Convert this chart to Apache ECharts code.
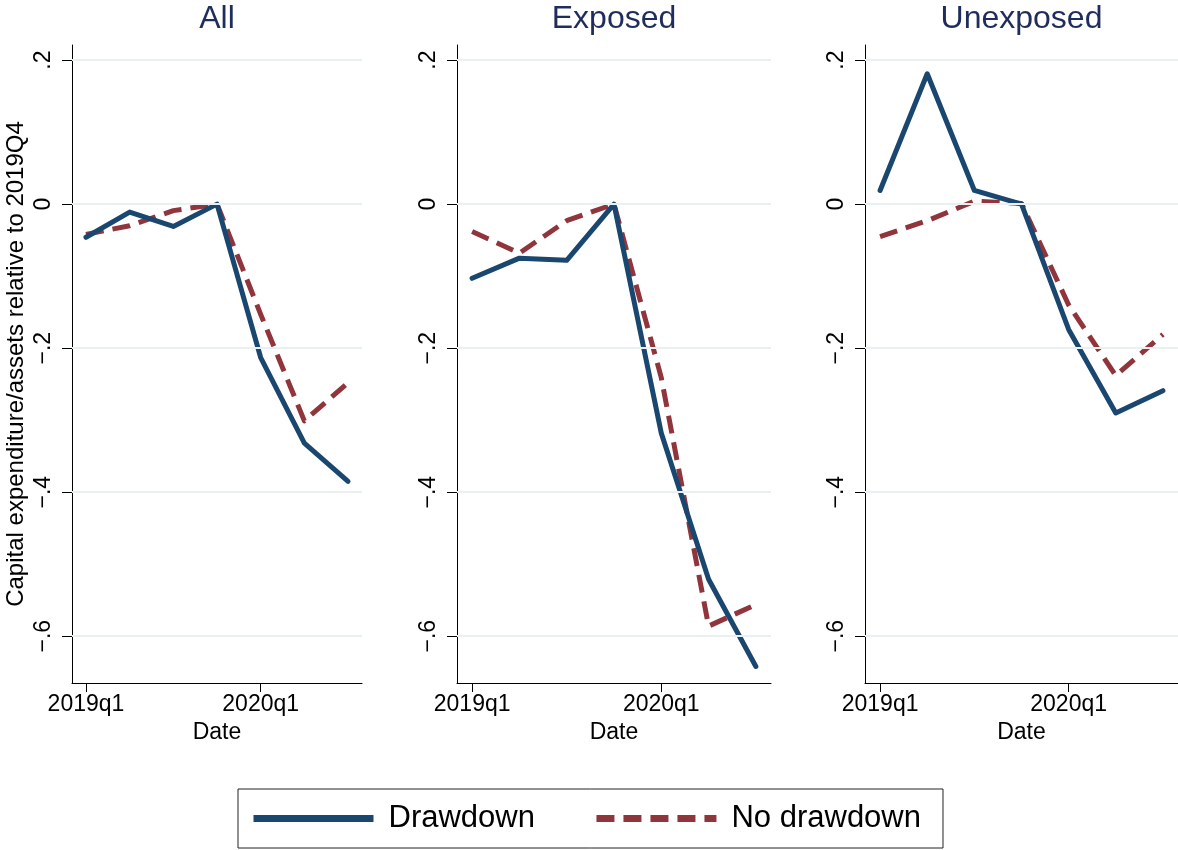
<!DOCTYPE html>
<html>
<head>
<meta charset="utf-8">
<script src="https://cdn.jsdelivr.net/npm/echarts@6/dist/echarts.min.js"></script>
<style>
  html, body { margin: 0; padding: 0; background: #ffffff; }
  #chart { width: 1178px; height: 850px; }
</style>
</head>
<body>
<div id="chart"></div>
<script>
// Quarters on the horizontal axis
const quarters = ['2019q1', '2019q2', '2019q3', '2019q4', '2020q1', '2020q2', '2020q3'];
const xTickQuarters = ['2019q1', '2020q1'];
const yTicks = [0.2, 0, -0.2, -0.4, -0.6];

// Panel titles
const panelTitles = ['All', 'Exposed', 'Unexposed'];

// Capital expenditure/assets relative to 2019Q4
const drawdownAll = [-0.046, -0.011, -0.031, 0, -0.213, -0.332, -0.385];
const noDrawdownAll = [-0.042, -0.030, -0.009, 0, -0.153, -0.301, -0.248];

const drawdownExposed = [-0.103, -0.075, -0.078, 0, -0.318, -0.521, -0.642];
const noDrawdownExposed = [-0.038, -0.068, -0.023, 0, -0.241, -0.586, -0.556];

const drawdownUnexposed = [0.019, 0.181, 0.019, 0, -0.174, -0.290, -0.259];
const noDrawdownUnexposed = [-0.045, -0.023, 0.004, 0.001, -0.140, -0.238, -0.181];

const seriesNames = ['Drawdown', 'No drawdown'];
const yTitle = 'Capital expenditure/assets relative to 2019Q4';
const xTitle = 'Date';

// ---- layout & style ----
const FONT = '"Liberation Sans", Arial, Helvetica, sans-serif';
const BLUE = '#1a476f';
const RED = '#90353b';
const TITLE_COLOR = '#1f2d5c';
const GRID_COLOR = '#e9f0f2';

const panels = [
  { left: 72, width: 290, dd: drawdownAll, nd: noDrawdownAll },
  { left: 457, width: 314, dd: drawdownExposed, nd: noDrawdownExposed },
  { left: 865, width: 313, dd: drawdownUnexposed, nd: noDrawdownUnexposed }
];
const PLOT_TOP = 45;
const PLOT_HEIGHT = 638;
const X_MIN = -0.32, X_MAX = 6.32;
const Y_MIN = -0.665, Y_MAX = 0.221;

const xTickValues = xTickQuarters.map(q => quarters.indexOf(q));
const toPairs = arr => quarters.map((q, i) => [i, arr[i]]);
const fmtY = v => {
  if (Math.abs(v) < 1e-9) return '0';
  const s = Math.abs(v).toFixed(1).replace(/^0/, '');
  return (v < 0 ? '\u2212' : '') + s;
};

const grids = [], xAxes = [], yAxes = [], series = [], graphics = [];

panels.forEach((p, k) => {
  grids.push({ left: p.left, width: p.width, top: PLOT_TOP, height: PLOT_HEIGHT, containLabel: false });

  xAxes.push({
    type: 'value', gridIndex: k, min: X_MIN, max: X_MAX,
    name: xTitle, nameLocation: 'middle', nameGap: 36,
    nameTextStyle: { fontFamily: FONT, fontSize: 23, color: '#000' },
    axisLine: { show: true, onZero: false, lineStyle: { color: '#000', width: 1 } },
    axisTick: { show: true, customValues: xTickValues, length: 9, lineStyle: { color: '#000', width: 1 } },
    axisLabel: {
      show: true, customValues: xTickValues, margin: 10,
      fontFamily: FONT, fontSize: 23, color: '#000',
      formatter: v => quarters[Math.round(v)]
    },
    splitLine: { show: false }
  });

  yAxes.push({
    type: 'value', gridIndex: k, min: Y_MIN, max: Y_MAX,
    name: k === 0 ? yTitle : '', nameLocation: 'middle', nameGap: 44,
    nameTextStyle: { fontFamily: FONT, fontSize: 24, color: '#000' },
    axisLine: { show: true, onZero: false, lineStyle: { color: '#000', width: 1 } },
    axisTick: { show: true, customValues: yTicks, length: 10, lineStyle: { color: '#000', width: 1 } },
    axisLabel: {
      show: true, customValues: yTicks, rotate: 90, margin: 17,
      fontFamily: FONT, fontSize: 23, color: '#000',
      formatter: fmtY
    },
    splitLine: { show: false }
  });

  // horizontal grid lines at the y ticks
  series.push({
    type: 'line', xAxisIndex: k, yAxisIndex: k, data: [], silent: true, z: 1,
    markLine: {
      silent: true, symbol: ['none', 'none'], label: { show: false },
      lineStyle: { color: GRID_COLOR, width: 2, type: 'solid' },
      emphasis: { disabled: true },
      data: yTicks.map(v => ({ yAxis: v }))
    }
  });

  series.push({
    name: seriesNames[1], type: 'line', xAxisIndex: k, yAxisIndex: k,
    data: toPairs(p.nd), symbol: 'none', showSymbol: false, z: 3,
    itemStyle: { color: RED },
    lineStyle: { color: RED, width: 5, type: [18, 9], cap: 'butt', join: 'round' },
    emphasis: { disabled: true }
  });
  series.push({
    name: seriesNames[0], type: 'line', xAxisIndex: k, yAxisIndex: k,
    data: toPairs(p.dd), symbol: 'none', showSymbol: false, z: 4,
    itemStyle: { color: BLUE },
    lineStyle: { color: BLUE, width: 5, type: 'solid', cap: 'round', join: 'round' },
    emphasis: { disabled: true }
  });

  graphics.push({
    type: 'text', x: p.left + p.width / 2, y: 3, silent: true,
    style: {
      text: panelTitles[k], align: 'center', verticalAlign: 'top',
      fontFamily: FONT, fontSize: 32, fill: TITLE_COLOR
    }
  });
});

const chart = echarts.init(document.getElementById('chart'), null, { renderer: 'canvas' });
chart.setOption({
  animation: false,
  backgroundColor: '#ffffff',
  grid: grids,
  xAxis: xAxes,
  yAxis: yAxes,
  series: series,
  graphic: graphics,
  legend: {
    data: seriesNames,
    left: 238, top: 789,
    orient: 'horizontal',
    itemWidth: 120, itemHeight: 10, itemGap: 58,
    padding: [14, 22, 14, 12],
    borderColor: '#222', borderWidth: 1,
    selectedMode: false,
    itemStyle: { opacity: 0 },
    lineStyle: { width: 7, cap: 'butt' },
    textStyle: { fontFamily: FONT, fontSize: 31, color: '#000', padding: [0, 0, 0, 10] }
  }
});
</script>
</body>
</html>
